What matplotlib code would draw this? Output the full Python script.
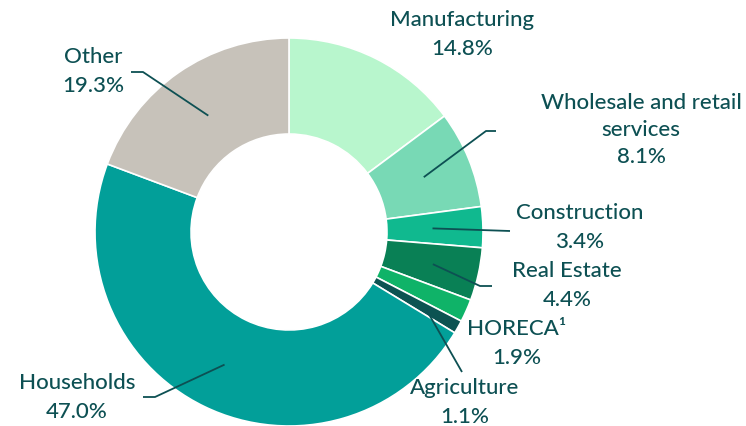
import numpy as np
import matplotlib
matplotlib.use("Agg")
import matplotlib.pyplot as plt

plt.rcParams['font.family'] = ['Lato', 'DejaVu Sans']

sectors = ["Manufacturing", "Wholesale and retail\nservices", "Construction",
           "Real Estate", "HORECA¹", "Agriculture", "Households", "Other"]
shares = [14.8, 8.1, 3.4, 4.4, 1.9, 1.1, 47.0, 19.3]
colors = ["#b8f6cd", "#78d9b5", "#10b98f", "#098055", "#0fb368",
          "#0c5352", "#029f99", "#c7c2ba"]

txt = "#0d5053"
H = 426

fig = plt.figure(figsize=(7.46, 4.26), dpi=100)
ax = fig.add_axes([0, 0, 1, 1])

cx, cy, R = 289, 232, 194
wedges, _ = ax.pie(shares, colors=colors, startangle=90, counterclock=False,
                   radius=R, center=(cx, H - cy),
                   wedgeprops=dict(width=R * 0.495, edgecolor='white', linewidth=1.2))
ax.set_xlim(0, 746)
ax.set_ylim(0, H)
ax.set_aspect('equal')
ax.axis('off')

# label layout in picture pixels: (text x, first line y, leader points after start)
layout = {
    0: (462, 20, None),
    1: (641, 103, [(486, 131), (496, 131)]),
    2: (580, 213, [(510, 231)]),
    3: (567, 271, [(480, 286), (492, 286)]),
    4: (517, 329, None),
    5: (465, 388, [(462, 372)]),
    6: (77, 383, [(155, 397), (143, 397)]),
    7: (93, 57, [(143, 72), (131, 72)]),
}
start_r = {1: 0.75, 2: 0.74, 3: 0.76, 5: 0.81, 6: 0.76, 7: 0.73}

cum = np.cumsum([0] + shares)
for i, name in enumerate(sectors):
    tx, ty, pts = layout[i]
    lines = name.split("\n") + [f"{shares[i]:.1f}%"]
    gap = 27 if len(lines) > 2 else 29
    for k, line in enumerate(lines):
        ax.text(tx, H - (ty + k * gap), line, ha='center', va='center',
                color=txt, fontsize=16, fontweight='medium')
    if pts:
        mid = np.deg2rad(90 - 3.6 * (cum[i] + shares[i] / 2))
        r = R * start_r[i]
        x0, y0 = cx + r * np.cos(mid), (H - cy) + r * np.sin(mid)
        xs = [x0] + [p[0] for p in pts]
        ys = [y0] + [H - p[1] for p in pts]
        ax.plot(xs, ys, color=txt, lw=1.3, solid_capstyle='butt')

fig.savefig("out.png", dpi=100)
